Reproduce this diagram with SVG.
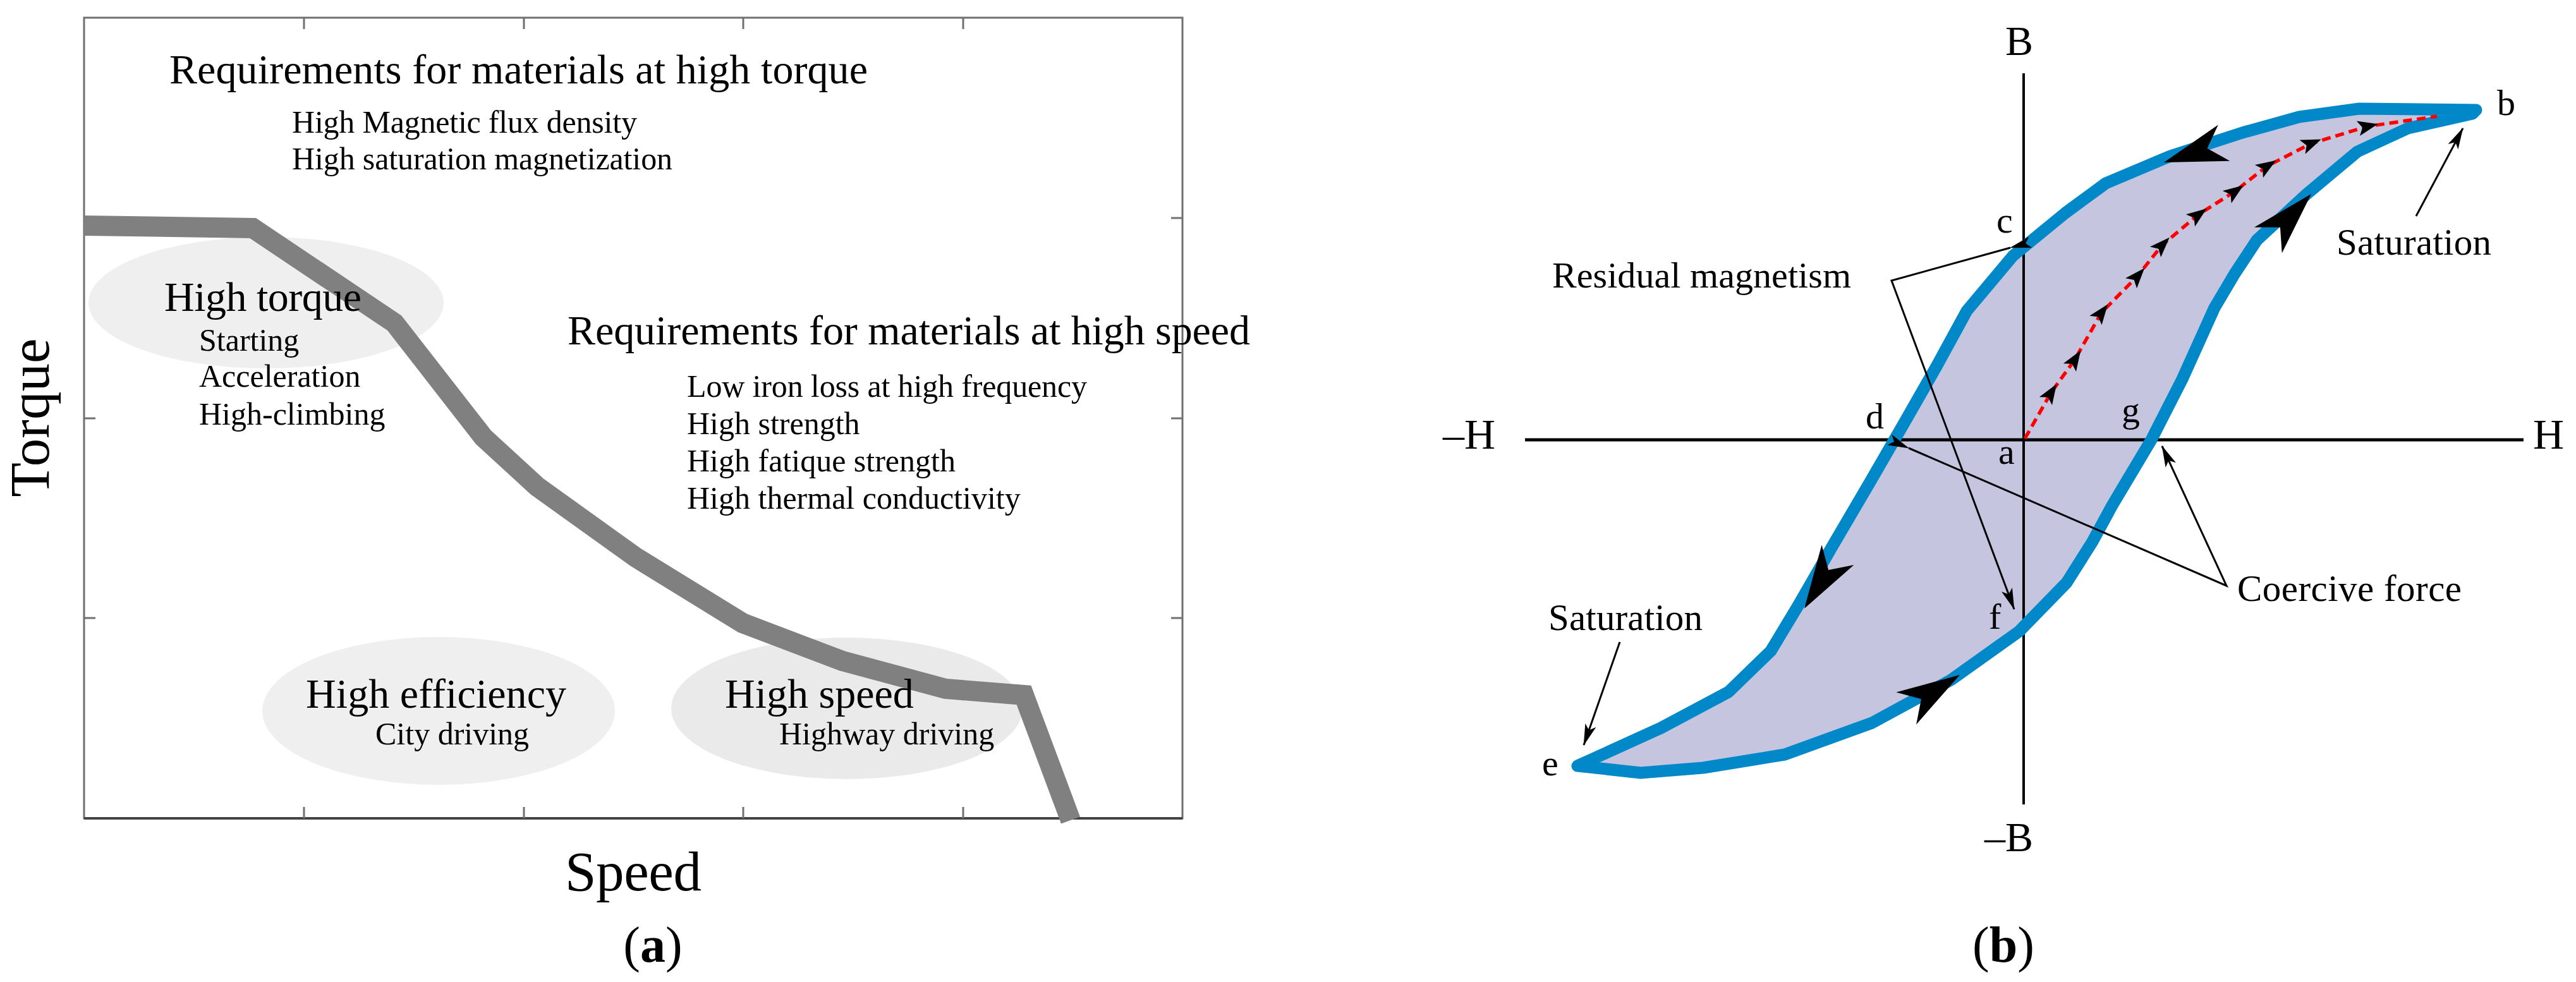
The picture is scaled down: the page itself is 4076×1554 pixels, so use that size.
<svg xmlns="http://www.w3.org/2000/svg" xmlns:xlink="http://www.w3.org/1999/xlink" width="4076" height="1554" viewBox="0 0 4076 1554">
<style>
text{font-family:"Liberation Serif","Times New Roman",serif;fill:#000}
.t66{font-size:66px}
.t50{font-size:50px}
.t58{font-size:58px}
.t60{font-size:59px}
.ax{font-size:89px}
.frame{fill:none;stroke:#707070;stroke-width:3}
.tick{stroke:#707070;stroke-width:3}
.ell{fill:#efefef}
.thin{fill:none;stroke:#000;stroke-width:3}
.axis{stroke:#000;fill:none}
</style>
<defs>
<marker id="ah" markerUnits="userSpaceOnUse" viewBox="0 0 34 20" markerWidth="34" markerHeight="20" refX="33" refY="10" orient="auto">
<path d="M0,1 L34,10 L0,19 L8,10 Z" fill="#000"/>
</marker>
<marker id="sm" markerUnits="userSpaceOnUse" viewBox="-18 -14 36 28" markerWidth="36" markerHeight="28" refX="0" refY="0" orient="auto">
<path d="M17,0 L-15,-12 L-8,0 L-15,12 Z" fill="#000"/>
</marker>
<path id="big" d="M0,0 L-100,-30 L-72,0 L-100,30 Z" fill="#000"/>
</defs>
<rect width="4076" height="1554" fill="#fff"/>

<!-- ===== Panel (a) ===== -->
<g id="panel-a">
<g id="a-ellipses">
<ellipse id="ell-high-torque" class="ell" cx="421" cy="479" rx="281" ry="104"/>
<ellipse id="ell-high-efficiency" class="ell" cx="694" cy="1125" rx="279" ry="117"/>
<ellipse id="ell-high-speed" cx="1340" cy="1121" rx="278" ry="112" fill="#eaeaea"/>
</g>
<g id="a-frame">
<rect class="frame" x="133" y="28" width="1738" height="1267"/>
<line x1="133" y1="1295" x2="1871" y2="1295" stroke="#444" stroke-width="4"/>
<path class="tick" d="M481,1295v-18M829,1295v-18M1176,1295v-18M1524,1295v-18M481,28v18M829,28v18M1176,28v18M1524,28v18M133,345h18M133,662h18M133,978h18M1871,345h-18M1871,662h-18M1871,978h-18"/>
</g>
<polyline id="torque-curve" fill="none" stroke="#808080" stroke-width="32" stroke-linejoin="miter" stroke-miterlimit="4" points="133,357 400,361 624,511 765,692 850,770 1006,882 1175,986 1333,1046 1496,1090 1620,1100 1694,1298"/>
<g id="req-torque">
<text class="t66" x="268" y="132" textLength="1105">Requirements for materials at high torque</text>
<text class="t50" x="462" y="210" textLength="546">High Magnetic flux density</text>
<text class="t50" x="462" y="268" textLength="602">High saturation magnetization</text>
</g>
<g id="high-torque">
<text class="t66" x="260" y="492" textLength="312">High torque</text>
<text class="t50" x="315" y="555">Starting</text>
<text class="t50" x="315" y="612">Acceleration</text>
<text class="t50" x="315" y="672">High-climbing</text>
</g>
<g id="req-speed">
<text class="t66" x="898" y="545" textLength="1080">Requirements for materials at high speed</text>
<text class="t50" x="1087" y="628" textLength="633">Low iron loss at high frequency</text>
<text class="t50" x="1087" y="687">High strength</text>
<text class="t50" x="1087" y="746">High fatique strength</text>
<text class="t50" x="1087" y="805">High thermal conductivity</text>
</g>
<g id="high-efficiency">
<text class="t66" x="484" y="1120" textLength="412">High efficiency</text>
<text class="t50" x="594" y="1178">City driving</text>
</g>
<g id="high-speed">
<text class="t66" x="1147" y="1120">High speed</text>
<text class="t50" x="1233" y="1178">Highway driving</text>
</g>
<text class="ax" x="894" y="1409" textLength="216">Speed</text>
<text class="ax" text-anchor="middle" transform="translate(77,661) rotate(-90)">Torque</text>
<text x="1033" y="1522" text-anchor="middle" style="font-size:80px">(<tspan font-weight="bold">a</tspan>)</text>
</g>

<!-- ===== Panel (b) ===== -->
<g id="panel-b">
<polygon id="loop-fill" fill="#c5c5e0" stroke="none" points="3918,174 3733,172 3638,185 3548,210 3434,247 3332,290 3268,337 3185,405 3112,492 3064,580 3012,671 2960,761 2899,865 2846,957 2802,1030 2735,1095 2628,1152 2496,1212 2596,1223 2695,1215 2824,1194 2962,1144 3087,1076 3195,999 3270,922 3311,857 3342,800 3404,696 3453,600 3504,487 3536,433 3571,380 3650,307 3730,240 3810,203 3912,180"/>
<g id="axes">
<line class="axis" x1="3202" y1="116" x2="3202" y2="1273" stroke-width="4"/>
<line class="axis" x1="2413" y1="696" x2="3993" y2="696" stroke-width="5"/>
</g>
<polygon id="loop" fill="none" stroke="#0088c8" stroke-width="19" stroke-linejoin="round" points="3918,174 3733,172 3638,185 3548,210 3434,247 3332,290 3268,337 3185,405 3112,492 3064,580 3012,671 2960,761 2899,865 2846,957 2802,1030 2735,1095 2628,1152 2496,1212 2596,1223 2695,1215 2824,1194 2962,1144 3087,1076 3195,999 3270,922 3311,857 3342,800 3404,696 3453,600 3504,487 3536,433 3571,380 3650,307 3730,240 3810,203 3912,180"/>
<polyline id="initial-curve" fill="none" stroke="#ff0000" stroke-width="5.5" stroke-dasharray="14 8" marker-mid="url(#sm)" points="3204,694 3245,622 3283,569 3325,495 3382,437 3421,388 3478,340 3536,303 3587,263 3657,227 3746,200 3856,184"/>
<g id="loop-arrows">
<use xlink:href="#big" transform="translate(3424,257) rotate(162)"/>
<use xlink:href="#big" transform="translate(3657,307) rotate(-47)"/>
<use xlink:href="#big" transform="translate(2855,963) rotate(122)"/>
<use xlink:href="#big" transform="translate(3101,1068) rotate(-32)"/>
</g>
<g id="connectors">
<polyline class="thin" points="3181,392 2993,444 3187,964" marker-start="url(#ah)" marker-end="url(#ah)"/>
<polyline class="thin" points="3020,709 3523,927 3421,706" marker-start="url(#ah)" marker-end="url(#ah)"/>
<line class="thin" x1="3823" y1="342" x2="3897" y2="203" marker-end="url(#ah)"/>
<line class="thin" x1="2563" y1="1016" x2="2506" y2="1179" marker-end="url(#ah)"/>
</g>
<g id="axis-labels">
<text x="3195" y="87" text-anchor="middle" style="font-size:66px">B</text>
<text x="3217" y="1347" text-anchor="end" style="font-size:66px">–B</text>
<text x="4008" y="710" style="font-size:68px">H</text>
<text x="2366" y="710" text-anchor="end" style="font-size:68px">–H</text>
</g>
<g id="point-labels">
<text class="t58" x="3951" y="182">b</text>
<text class="t58" x="3159" y="368">c</text>
<text class="t58" x="2952" y="678">d</text>
<text class="t58" x="3357" y="668">g</text>
<text class="t58" x="3162" y="734">a</text>
<text class="t58" x="3147" y="995">f</text>
<text class="t58" x="2440" y="1227">e</text>
</g>
<g id="residual-magnetism"><text class="t58" x="2456" y="455" textLength="473">Residual magnetism</text></g>
<g id="saturation-top"><text class="t60" x="3697" y="403" textLength="245">Saturation</text></g>
<g id="saturation-bottom"><text class="t60" x="2450" y="997" textLength="244">Saturation</text></g>
<g id="coercive-force"><text class="t60" x="3540" y="951" textLength="355">Coercive force</text></g>
<text x="3170" y="1522" text-anchor="middle" style="font-size:80px">(<tspan font-weight="bold">b</tspan>)</text>
</g>
</svg>
